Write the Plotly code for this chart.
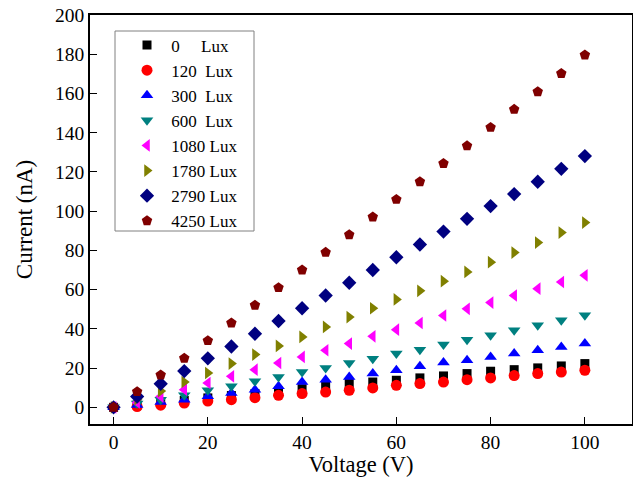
import plotly.graph_objects as go

voltage = [0, 5, 10, 15, 20, 25, 30, 35, 40, 45, 50, 55, 60, 65, 70, 75, 80, 85, 90, 95, 100]

lux_labels = ["\u00a00\u00a0\u00a0\u00a0\u00a0\u00a0Lux", "\u00a0120\u00a0\u00a0Lux", "\u00a0300\u00a0\u00a0Lux", "\u00a0600\u00a0\u00a0Lux",
              "\u00a01080 Lux", "\u00a01780 Lux", "\u00a02790 Lux", "\u00a04250 Lux"]

cur_0 = [0, 1.2, 2.5, 3.5, 4.8, 6.0, 7.0, 8.3, 9.5, 10.7, 12.1, 12.9, 13.8, 15.0, 16.0, 17.2, 18.4, 19.2, 20.1, 21.1, 22.3]
cur_120 = [0, 0.4, 1.1, 2.2, 3.2, 3.9, 4.9, 6.1, 7.0, 7.8, 8.7, 9.9, 11.2, 12.1, 12.9, 14.1, 15.0, 16.2, 17.2, 18.0, 18.9]
cur_300 = [0, 1.2, 2.7, 3.9, 5.6, 7.3, 9.0, 10.7, 12.9, 14.1, 15.5, 17.2, 18.9, 20.9, 22.8, 24.0, 25.7, 27.4, 29.1, 30.8, 32.5]
cur_600 = [0, 2.0, 3.9, 6.1, 8.7, 10.7, 13.3, 15.5, 18.0, 20.1, 22.6, 24.8, 27.4, 29.4, 32.0, 34.5, 36.7, 39.3, 41.8, 44.4, 46.9]
cur_1080 = [0, 2.5, 5.5, 9.0, 12.4, 15.8, 19.2, 22.6, 25.7, 29.1, 32.5, 36.2, 39.6, 43.0, 46.8, 50.2, 53.4, 57.0, 60.5, 63.9, 67.3]
cur_1780 = [0, 4.2, 8.3, 12.9, 17.5, 22.3, 26.9, 31.3, 35.9, 41.0, 46.0, 50.5, 55.0, 59.4, 64.3, 69.0, 74.0, 78.9, 84.0, 89.1, 94.2]
cur_2790 = [0, 5.5, 12.0, 18.5, 25.0, 31.0, 37.5, 44.0, 50.5, 57.0, 63.5, 70.0, 76.5, 83.0, 89.6, 96.1, 102.6, 108.7, 115.0, 121.6, 128.1]
cur_4250 = [0, 8.0, 16.5, 25.0, 34.0, 43.0, 52.0, 61.0, 70.0, 79.0, 88.0, 97.0, 106.0, 115.0, 124.3, 133.3, 142.7, 151.9, 160.9, 170.2, 179.6]

series = [cur_0, cur_120, cur_300, cur_600, cur_1080, cur_1780, cur_2790, cur_4250]
colors = ["#000000", "#FF0000", "#0000FF", "#008080", "#FF00FF", "#808000", "#000080", "#800000"]
symbols = ["square", "circle", "triangle-up", "triangle-down", "triangle-left", "triangle-right", "diamond", "pentagon"]
sizes = [9, 11, 11, 11, 11, 11, 11, 11]

fig = go.Figure()
for lab, ys, c, s, sz in zip(lux_labels, series, colors, symbols, sizes):
    fig.add_trace(go.Scatter(x=voltage, y=ys, mode="markers", name=lab,
                             marker=dict(color=c, symbol=s, size=sz, line=dict(width=0))))

font_family = "Liberation Serif"
W, H = 633, 477
ml, mr, mt, mb = 90, 1, 15, 53
pw, ph = W - ml - mr, H - mt - mb


def px_x(p):
    return (p - ml) / pw


def px_y(p):
    return 1 - (p - mt) / ph


fig.update_layout(
    width=W, height=H,
    margin=dict(l=ml, r=mr, t=mt, b=mb),
    paper_bgcolor="white", plot_bgcolor="white",
    font=dict(family=font_family, size=19.5, color="black"),
    showlegend=True,
    legend=dict(x=px_x(127), y=px_y(27.5), xanchor="left", yanchor="top",
                borderwidth=0, bgcolor="rgba(0,0,0,0)",
                font=dict(family=font_family, size=17), tracegroupgap=0),
    shapes=[dict(type="rect", xref="paper", yref="paper",
                 x0=px_x(115), x1=px_x(254), y0=px_y(231), y1=px_y(31),
                 line=dict(color="#808080", width=1), fillcolor="rgba(0,0,0,0)")],
    xaxis=dict(range=[-5, 110], tickvals=[0, 20, 40, 60, 80, 100], ticks="inside", ticklen=7,
               tickwidth=1, tickcolor="black", showline=True, linecolor="black", linewidth=1.5,
               mirror=True, showgrid=False, zeroline=False, automargin=False,
               title=dict(text="Voltage (V)", font=dict(size=22.5), standoff=8)),
    yaxis=dict(range=[-8.5, 200], tickvals=[0, 20, 40, 60, 80, 100, 120, 140, 160, 180, 200], ticks="inside",
               ticklen=7, tickwidth=1, tickcolor="black", showline=True, linecolor="black", linewidth=1.5,
               mirror=True, showgrid=False, zeroline=False, automargin=False,
               title=dict(text="Current (nA)", font=dict(size=23), standoff=16)),
)

fig.write_html("out.html")
